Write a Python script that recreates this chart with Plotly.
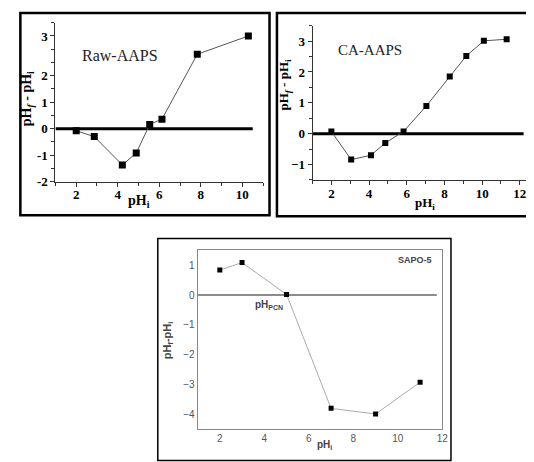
import plotly.graph_objects as go

# ---- data ----
raw_ph_i = [2.0, 2.87, 4.22, 4.89, 5.54, 6.13, 7.83, 10.29]
raw_delta = [-0.08, -0.30, -1.37, -0.92, 0.16, 0.36, 2.81, 3.50]

ca_ph_i = [2.0, 3.05, 4.10, 4.86, 5.83, 7.04, 8.28, 9.16, 10.09, 11.30]
ca_delta = [0.07, -0.84, -0.70, -0.30, 0.07, 0.90, 1.85, 2.52, 3.01, 3.06]

sapo_ph_i = [2, 3, 5, 7, 9, 11]
sapo_delta = [0.84, 1.09, 0.02, -3.81, -4.00, -2.93]

raw_ytickvals = [-2, -1, 0, 1, 2, 3.5]
raw_yticktext = ["-2", "-1", "0", "1", "2", "3"]

W, H = 534, 462


def px(x):
    return x / W


def py(y):
    return 1 - y / H


SERIF = "Liberation Serif, DejaVu Serif, serif"
SANS = "Liberation Sans, Arial, sans-serif"

fig = go.Figure()

# Panel 1: Raw-AAPS
fig.add_trace(go.Scatter(
    x=raw_ph_i, y=raw_delta, mode="lines+markers",
    line=dict(color="#555555", width=1),
    marker=dict(symbol="square", size=7, color="black"),
    xaxis="x", yaxis="y", showlegend=False))

# Panel 2: CA-AAPS
fig.add_trace(go.Scatter(
    x=ca_ph_i, y=ca_delta, mode="lines+markers",
    line=dict(color="#555555", width=1),
    marker=dict(symbol="square", size=6, color="black"),
    xaxis="x2", yaxis="y2", showlegend=False))

# Panel 3: SAPO-5
fig.add_trace(go.Scatter(
    x=sapo_ph_i, y=sapo_delta, mode="lines+markers",
    line=dict(color="#aaaaaa", width=1),
    marker=dict(symbol="square", size=5, color="black"),
    xaxis="x3", yaxis="y3", showlegend=False))

tick_serif = dict(family=SERIF, size=13, color="black", weight="bold")
tick_sans = dict(family=SANS, size=10, color="#555555")

common_serif_axis = dict(
    showgrid=False, zeroline=False, showline=True, linecolor="#333333",
    linewidth=1, ticks="outside", ticklen=4, tickcolor="#333333",
    tickfont=tick_serif, fixedrange=True, ticklabeloverflow="allow")

fig.update_layout(
    width=W, height=H,
    margin=dict(l=0, r=0, t=0, b=0),
    paper_bgcolor="white", plot_bgcolor="rgba(0,0,0,0)",
    xaxis=dict(domain=[px(48), px(258)], range=[1, 11], anchor="y",
               tickvals=[2, 4, 6, 8, 10], ticklabelstandoff=-3,
               minor=dict(dtick=1, ticklen=3, ticks="outside", tickcolor="#333333"),
               **common_serif_axis),
    yaxis=dict(domain=[py(176.7), py(15)], range=[-2, 4], anchor="x",
               tickvals=raw_ytickvals, ticktext=raw_yticktext,
               minor=dict(dtick=0.5, ticklen=3, ticks="outside", tickcolor="#333333"),
               **common_serif_axis),
    xaxis2=dict(domain=[px(308), px(531)], range=[1, 12.7], anchor="y2",
                tickvals=[2, 4, 6, 8, 10, 12], ticklabelstandoff=-3,
                minor=dict(dtick=1, ticklen=3, ticks="outside", tickcolor="#333333"),
                **common_serif_axis),
    yaxis2=dict(domain=[py(175), py(18)], range=[-1.5, 3.5], anchor="x2",
                tickvals=[-1, 0, 1, 2, 3],
                minor=dict(dtick=0.5, ticklen=3, ticks="outside", tickcolor="#333333"),
                **common_serif_axis),
    xaxis3=dict(domain=[px(191.7), px(439.3)], range=[1, 12], anchor="y3",
                tickvals=[2, 4, 6, 8, 10, 12], showgrid=False, zeroline=False,
                showline=True, mirror=True, linecolor="#888888", linewidth=1,
                ticks="", tickfont=tick_sans, fixedrange=True,
                ticklabeloverflow="allow"),
    yaxis3=dict(domain=[py(428.3), py(246.7)], range=[-4.5, 1.5], anchor="x3",
                tickvals=[-4, -3, -2, -1, 0, 1], showgrid=False, zeroline=False,
                showline=True, mirror=True, linecolor="#888888", linewidth=1,
                ticks="", tickfont=tick_sans, fixedrange=True,
                ticklabeloverflow="allow"),
)

# zero reference lines
fig.add_shape(type="line", xref="x", yref="y", x0=1, x1=10.5, y0=0, y1=0,
              line=dict(color="black", width=3), layer="below")
fig.add_shape(type="line", xref="x2", yref="y2", x0=1, x1=12.2, y0=0, y1=0,
              line=dict(color="black", width=3), layer="below")
fig.add_shape(type="line", xref="x3", yref="y3", x0=1, x1=11.75, y0=0, y1=0,
              line=dict(color="#666666", width=1.5), layer="below")

# panel borders
fig.add_shape(type="rect", xref="paper", yref="paper",
              x0=px(12.5), x1=px(264.5), y0=py(211), y1=py(5),
              line=dict(color="black", width=2.5))
fig.add_shape(type="rect", xref="paper", yref="paper",
              x0=px(272), x1=px(532.5), y0=py(212), y1=py(5),
              line=dict(color="black", width=2.5))
fig.add_shape(type="rect", xref="paper", yref="paper",
              x0=px(151.5), x1=px(448), y0=py(460.5), y1=py(234.5),
              line=dict(color="black", width=1.5))

ann = []
# panel 1 texts
ann.append(dict(x=px(113), y=py(48), text="Raw-AAPS",
                font=dict(family=SERIF, size=16, color="#222222")))
ann.append(dict(x=px(20), y=py(92), text="pH<sub><i>f</i></sub> - pH<sub>i</sub>",
                textangle=-90, font=dict(family=SERIF, size=14, color="black", weight="bold")))
ann.append(dict(x=px(132), y=py(197), text="pH<sub>i</sub>",
                font=dict(family=SERIF, size=14, color="black", weight="bold")))
# panel 2 texts
ann.append(dict(x=px(366), y=py(43), text="CA-AAPS",
                font=dict(family=SERIF, size=15, color="#222222")))
ann.append(dict(x=px(280), y=py(78), text="pH<sub><i>f</i></sub> - pH<sub>i</sub>",
                textangle=-90, font=dict(family=SERIF, size=13, color="black", weight="bold")))
ann.append(dict(x=px(422), y=py(199), text="pH<sub>i</sub>",
                font=dict(family=SERIF, size=13, color="black", weight="bold")))
# panel 3 texts
ann.append(dict(x=px(412), y=py(256), text="SAPO-5",
                font=dict(family=SANS, size=9, color="#444444", weight="bold")))
ann.append(dict(x=px(264), y=py(302), text="pH<sub>PCN</sub>",
                font=dict(family=SANS, size=10, color="#444444", weight="bold")))
ann.append(dict(x=px(162), y=py(338), text="pH<sub>f</sub>-pH<sub>i</sub>",
                textangle=-90, font=dict(family=SANS, size=11, color="#444444", weight="bold")))
ann.append(dict(x=px(320), y=py(445), text="pH<sub>i</sub>",
                font=dict(family=SANS, size=10, color="#444444", weight="bold")))

for a in ann:
    a.update(xref="paper", yref="paper", showarrow=False, xanchor="center", yanchor="middle")
fig.update_layout(annotations=ann)

fig.write_html("out.html")
